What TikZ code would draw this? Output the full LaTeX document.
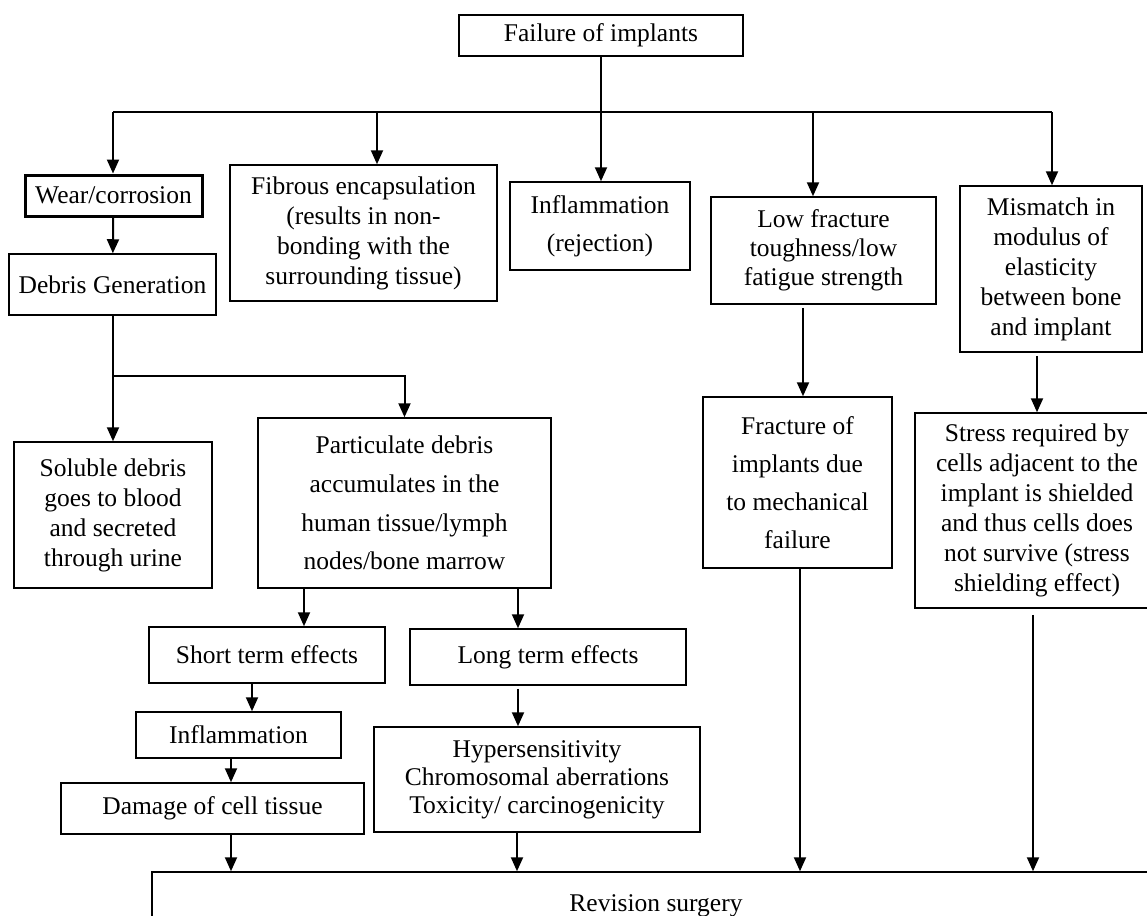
\documentclass[tikz,border=0pt]{standalone}
\usepackage{fontspec}
\setmainfont{Liberation Serif}
\usetikzlibrary{arrows.meta, positioning, calc}

\begin{document}
\begin{tikzpicture}[x=0.5pt, y=-0.5pt, font=\fontsize{12.75}{15}\selectfont,
    box/.style={draw, line width=0.75pt, align=center, inner sep=0pt},
    arr/.style={-{Triangle[length=7pt, width=6pt]}, line width=1pt}]
    \useasboundingbox (0,0) rectangle (1147,916);
    \clip (0,0) rectangle (1147,916);

    % Failure modes
    \node[box, minimum width=142pt, minimum height=20.5pt] (fail) at (601,35.5) {Failure of implants};
    \coordinate (busL) at (113,112);
    \coordinate (busR) at (1052,112);

    \node[box, line width=1.5pt, minimum width=88.5pt, minimum height=20.5pt] (wear) at (113.5,195.5) {Wear/corrosion};
    \node[box, minimum width=133.5pt, minimum height=68pt] (fibrous) at (363.5,233) {Fibrous encapsulation\\(results in non-\\bonding with the\\surrounding tissue)};
    \node[box, minimum width=90pt, minimum height=44pt, font=\fontsize{12.75}{19}\selectfont] (inflrej) at (600,226) {Inflammation\\(rejection)};
    \node[box, minimum width=112.5pt, minimum height=53.5pt, font=\fontsize{12.75}{14.5}\selectfont] (lowfrac) at (823.5,250.5) {Low fracture\\toughness/low\\fatigue strength};
    \node[box, minimum width=91pt, minimum height=83pt] (mismatch) at (1051,269) {Mismatch in\\modulus of\\elasticity\\between bone\\and implant};

    % Wear branch
    \node[box, minimum width=103.5pt, minimum height=30.5pt] (debris) at (112.5,284.5) {Debris Generation};
    \coordinate (split) at (113,376);
    \node[box, minimum width=99pt, minimum height=73pt] (soluble) at (113,515) {Soluble debris\\goes to blood\\and secreted\\through urine};
    \node[box, minimum width=146.5pt, minimum height=85pt, font=\fontsize{12.75}{19.3}\selectfont] (partic) at (404.5,503) {Particulate debris\\accumulates in the\\human tissue/lymph\\nodes/bone marrow};
    \node[box, minimum width=118pt, minimum height=28pt] (short) at (267,655) {Short term effects};
    \node[box, minimum width=138pt, minimum height=28pt] (long) at (548,657) {Long term effects};
    \node[box, minimum width=102.5pt, minimum height=23pt] (inflam) at (238.5,735) {Inflammation};
    \node[box, minimum width=151.5pt, minimum height=25.5pt] (damage) at (212.5,808.5) {Damage of cell tissue};
    \node[box, minimum width=163pt, minimum height=52.5pt, font=\fontsize{12.75}{14}\selectfont] (hyper) at (537,779.5) {Hypersensitivity\\Chromosomal aberrations\\Toxicity/ carcinogenicity};

    % Mechanical branch
    \node[box, minimum width=94.5pt, minimum height=85.5pt, font=\fontsize{12.75}{19}\selectfont] (fracture) at (797.5,482.5) {Fracture of\\implants due\\to mechanical\\failure};
    \node[box, minimum width=122pt, minimum height=97.5pt] (stress) at (1037,510.5) {Stress required by\\cells adjacent to the\\implant is shielded\\and thus cells does\\not survive (stress\\shielding effect)};

    \node[box, minimum width=504pt, minimum height=34pt] (revision) at (656,906) {Revision surgery};

    % Connections
    \draw[line width=1pt] (fail.south) -- (fail.south |- busL);
    \draw[line width=1pt] (busL) -- (busR);
    \draw[arr] (busL) -- (busL |- wear.north);
    \draw[arr] ([xshift=6.75pt]fibrous.north |- busL) -- ([xshift=6.75pt]fibrous.north);
    \draw[arr] (fail.south |- busL) -- (fail.south |- inflrej.north);
    \draw[arr] ([xshift=-5.25pt]lowfrac.north |- busL) -- ([xshift=-5.25pt]lowfrac.north);
    \draw[arr] (busR) -- (busR |- mismatch.north);

    \draw[arr] (wear) -- (debris);
    \draw[arr] (debris.south -| busL) -- (busL |- soluble.north);
    \draw[arr] (split) -| (partic.north);
    \draw[arr] ([xshift=-50.25pt]partic.south) -- ([xshift=-50.25pt]partic.south |- short.north);
    \draw[arr] ([xshift=56.75pt]partic.south) -- ([xshift=56.75pt]partic.south |- long.north);
    \draw[arr] ([xshift=-7.5pt]short.south) -- ([xshift=-7.5pt]short.south |- inflam.north);
    \draw[arr] ([xshift=-3.75pt]inflam.south) -- ([xshift=-3.75pt]inflam.south |- damage.north);
    \draw[arr] ([xshift=-15pt,yshift=-1.5pt]long.south) -- ([xshift=-15pt]long.south |- hyper.north);

    \draw[arr] ([xshift=-10.25pt,yshift=-1.5pt]lowfrac.south) -- ([xshift=-10.25pt]lowfrac.south |- fracture.north);
    \draw[arr] ([xshift=-7pt,yshift=-1.5pt]mismatch.south) -- ([xshift=-7pt]mismatch.south |- stress.north);

    \draw[arr] ([xshift=9.25pt]damage.south) -- ([xshift=9.25pt]damage.south |- revision.north);
    \draw[arr] ([xshift=-10pt]hyper.south) -- ([xshift=-10pt]hyper.south |- revision.north);
    \draw[arr] ([xshift=1.25pt]fracture.south) -- ([xshift=1.25pt]fracture.south |- revision.north);
    \draw[arr] ([xshift=-2pt,yshift=-3pt]stress.south) -- ([xshift=-2pt]stress.south |- revision.north);
\end{tikzpicture}
\end{document}
